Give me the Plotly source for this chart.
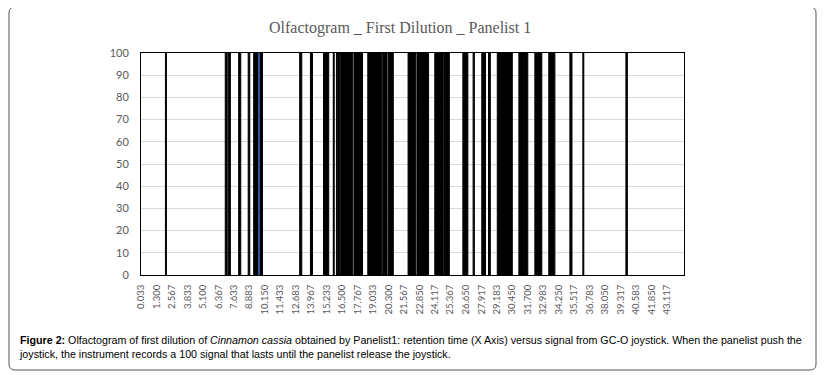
import numpy as np
import plotly.graph_objects as go

TITLE = "Olfactogram _ First Dilution _ Panelist 1"
CAPTION = ("<b>Figure 2:</b> Olfactogram of first dilution of <i>Cinnamon cassia</i> obtained by Panelist1: "
           "retention time (X Axis) versus signal from GC-O joystick. When the panelist push the<br>"
           "joystick, the instrument records a 100 signal that lasts until the panelist release the joystick.")

SIGNAL_LEVEL = 100
# joystick press intervals (retention time, min)
PRESS_START = [2.02, 6.92, 7.18, 8.02, 8.80, 9.25, 13.02, 13.90, 14.97, 15.77, 16.03, 16.20,
               16.38, 17.47, 18.60, 19.83, 20.28, 21.90, 22.63, 24.09, 24.89, 26.39, 27.23,
               27.94, 28.49, 29.21, 30.98, 32.29, 33.43, 35.16, 36.22, 39.75]
PRESS_END = [2.10, 7.08, 7.34, 8.19, 8.93, 9.97, 13.19, 14.07, 15.40, 15.85, 16.11, 16.30,
             17.37, 18.17, 19.75, 20.18, 20.69, 22.53, 23.58, 24.79, 25.28, 26.80, 27.33,
             28.25, 28.64, 30.44, 31.71, 32.86, 33.93, 35.33, 36.30, 39.87]
BLUE_START = [9.62]
BLUE_END = [9.70]

TICK_LABELS = ["0.033", "1.300", "2.567", "3.833", "5.100", "6.367", "7.633", "8.883", "10.150",
               "11.433", "12.683", "13.967", "15.233", "16.500", "17.767", "19.033", "20.300",
               "21.567", "22.850", "24.117", "25.367", "26.650", "27.917", "29.183", "30.450",
               "31.700", "32.983", "34.250", "35.517", "36.783", "38.050", "39.317", "40.583",
               "41.850", "43.117"]
Y_TICKS = [0, 10, 20, 30, 40, 50, 60, 70, 80, 90, 100]
X_RANGE = [0.0167, 44.51]

# page body has an 8px default margin: shrink the figure so it fills the window
OFF = 8
WIN_W, WIN_H = 826, 375
W, H = WIN_W - OFF, WIN_H - OFF
# plot area in window pixels
L, R, T, B = 141, 684, 53, 275
PW, PH = R - L, B - T


def xp(px):
    return (px - L) / PW


def yp(py):
    return (B - py) / PH


start = np.array(PRESS_START)
end = np.array(PRESS_END)
bstart = np.array(BLUE_START)
bend = np.array(BLUE_END)

fig = go.Figure()
fig.add_trace(go.Bar(
    x=(start + end) / 2, y=[SIGNAL_LEVEL] * len(start), width=end - start,
    marker=dict(color="black", line=dict(color="black", width=1)),
    hoverinfo="skip", showlegend=False))
fig.add_trace(go.Bar(
    x=(bstart + bend) / 2, y=[SIGNAL_LEVEL] * len(bstart), width=bend - bstart,
    marker=dict(color="#2f5597", line=dict(width=0)),
    hoverinfo="skip", showlegend=False))

tick_vals = [float(t) for t in TICK_LABELS]

fig.update_layout(
    width=W, height=H,
    margin=dict(l=L - OFF, r=W - (R - OFF), t=T - OFF, b=H - (B - OFF), pad=0),
    paper_bgcolor="white", plot_bgcolor="white",
    barmode="overlay",
    showlegend=False,
    xaxis=dict(type="linear", range=X_RANGE, tickmode="array", tickvals=tick_vals,
               ticktext=TICK_LABELS, tickangle=-90, showgrid=False, zeroline=False,
               showline=True, mirror=True, linecolor="black", linewidth=1,
               ticks="", ticklabelstandoff=5,
               tickfont=dict(family="Lato", size=9.5, color="#595959")),
    yaxis=dict(range=[0, 100], tickmode="array", tickvals=Y_TICKS, showgrid=True,
               gridcolor="#d9d9d9", gridwidth=1, zeroline=False,
               showline=True, mirror=True, linecolor="black", linewidth=1,
               ticks="", ticklabelstandoff=9,
               tickfont=dict(family="Lato", size=11, color="#595959")),
)

# title
fig.add_annotation(text=TITLE, xref="paper", yref="paper", x=xp(400), y=yp(28),
                   xanchor="center", yanchor="middle", showarrow=False,
                   font=dict(family="Liberation Serif", size=16, color="#595959"))
# caption
fig.add_annotation(text=CAPTION, xref="paper", yref="paper", x=xp(17), y=yp(332),
                   xanchor="left", yanchor="top", align="left", showarrow=False,
                   font=dict(family="Liberation Sans", size=10.7, color="black"))

# rounded outer frame
x0, x1, y0, y1, r = 9, 816, 7, 370, 6
path = (f"M {xp(x0 + r)},{yp(y0)} L {xp(x1 - r)},{yp(y0)} Q {xp(x1)},{yp(y0)} {xp(x1)},{yp(y0 + r)} "
        f"L {xp(x1)},{yp(y1 - r)} Q {xp(x1)},{yp(y1)} {xp(x1 - r)},{yp(y1)} "
        f"L {xp(x0 + r)},{yp(y1)} Q {xp(x0)},{yp(y1)} {xp(x0)},{yp(y1 - r)} "
        f"L {xp(x0)},{yp(y0 + r)} Q {xp(x0)},{yp(y0)} {xp(x0 + r)},{yp(y0)} Z")
fig.add_shape(type="path", path=path, xref="paper", yref="paper",
              line=dict(color="#555555", width=1), layer="above")

fig.write_html("out.html")
